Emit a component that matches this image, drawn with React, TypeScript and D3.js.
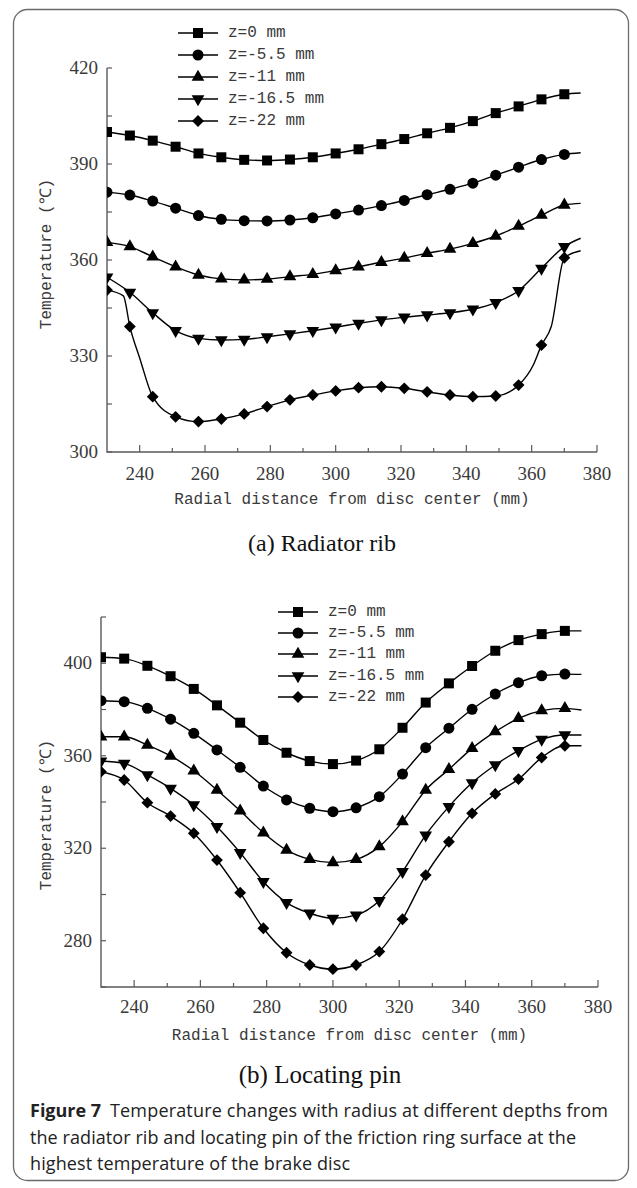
import React from 'react';
import * as d3 from 'd3';

// ---------- data ----------
const radius = [230, 237, 244, 251, 258, 265, 272, 279, 286, 293, 300, 307, 314, 321, 328, 335, 342, 349, 356, 363, 370, 375];
const markerCount = 21; // last radius (375) is line end only
const seriesNames = ['z=0 mm', 'z=-5.5 mm', 'z=-11 mm', 'z=-16.5 mm', 'z=-22 mm'];
const xTickValues = [240, 260, 280, 300, 320, 340, 360, 380];

// (a) Radiator rib
const ribZ0 = [400, 398.9, 397.3, 395.4, 393.3, 392.1, 391.3, 391.1, 391.4, 392.1, 393.3, 394.6, 396.2, 397.8, 399.6, 401.3, 403.4, 405.9, 408, 410.2, 411.8, 412.2];
const ribZ55 = [381.2, 380.3, 378.4, 376.2, 373.9, 372.7, 372.3, 372.2, 372.5, 373.2, 374.4, 375.6, 377, 378.6, 380.4, 382.1, 384, 386.5, 389, 391.4, 393, 393.5];
const ribZ11 = [365.5, 364.2, 361, 357.9, 355.3, 354.1, 353.8, 354, 354.8, 355.5, 356.7, 357.9, 359.3, 360.6, 362.1, 363.4, 365.2, 367.5, 370.6, 374, 377.2, 377.7];
const ribZ165 = [354.6, 349.9, 343.5, 337.9, 335.5, 335, 335.2, 336, 336.9, 337.9, 339, 340.2, 341.3, 342.1, 342.8, 343.5, 344.6, 346.7, 350.4, 357.4, 364.2, 366.8];
const ribZ22 = [350.6, 339.2, 317.3, 311, 309.5, 310.3, 311.9, 314.2, 316.3, 317.8, 319.1, 320.1, 320.4, 319.9, 318.8, 317.8, 317.3, 317.5, 320.9, 333.4, 360.7, 362.9];
const ribZ22ExtraRadius = [235, 240, 360.5, 366];
const ribZ22ExtraValues = [348.8, 329.4, 327.2, 339.2];
const ribYTicks = [300, 330, 360, 390, 420];

// (b) Locating pin
const pinZ0 = [402.6, 402, 398.9, 394.4, 388.9, 381.8, 374.3, 366.8, 361.3, 357.7, 356.4, 357.9, 362.8, 372.1, 383, 391.3, 398.8, 405.4, 410, 412.6, 414, 414];
const pinZ55 = [383.8, 383.4, 380.5, 375.8, 369.7, 362.5, 355, 346.9, 340.9, 337.3, 335.8, 337.5, 342.3, 352.1, 363.5, 371.9, 380.1, 386.7, 391.6, 394.6, 395.3, 395.2];
const pinZ11 = [368.2, 368.2, 364.6, 359.9, 353.5, 345.2, 336.2, 326.7, 319.2, 315.2, 313.8, 315.2, 320.7, 331.5, 345.2, 354.1, 363.2, 370.4, 376.2, 379.5, 380.5, 379.8];
const pinZ165 = [357.7, 356.7, 351.7, 345.9, 338.7, 329.3, 318.1, 305.5, 296.5, 291.9, 289.7, 291.1, 297.3, 309.9, 325.7, 338, 348.3, 356, 362.2, 367.1, 369, 369];
const pinZ22 = [353.1, 349.5, 339.7, 333.9, 326.5, 314.9, 300.8, 285.4, 274.8, 269.5, 267.7, 269.5, 275.3, 289.3, 308.4, 322.8, 335.1, 343.5, 349.9, 359.2, 364.3, 364.3];
const pinYTicks = [280, 320, 360, 400];

const captionBold = 'Figure 7';
const captionLines = [
  'Temperature changes with radius at different depths from',
  'the radiator rib and locating pin of the friction ring surface at the',
  'highest temperature of the brake disc',
];

// ---------- drawing ----------
const MONO = '"Liberation Mono", "DejaVu Sans Mono", monospace';
const SERIF = '"Liberation Serif", "DejaVu Serif", serif';
const SANS = '"Open Sans", "Noto Sans", sans-serif';
const AXIS = '#5a5a5a';
const TEXT = '#3a3a3a';

type Sym = 'square' | 'circle' | 'up' | 'down' | 'diamond';
const symbols: Sym[] = ['square', 'circle', 'up', 'down', 'diamond'];

function markerPath(s: Sym): { d: string; rot: number } {
  switch (s) {
    case 'square': return { d: d3.symbol(d3.symbolSquare, 100)()!, rot: 0 };
    case 'circle': return { d: d3.symbol(d3.symbolCircle, 95)()!, rot: 0 };
    case 'up': return { d: d3.symbol(d3.symbolTriangle, 70)()!, rot: 0 };
    case 'down': return { d: d3.symbol(d3.symbolTriangle, 70)()!, rot: 180 };
    case 'diamond': return { d: d3.symbol(d3.symbolSquare, 70)()!, rot: 45 };
  }
}

function Marker({ s, x, y }: { s: Sym; x: number; y: number }) {
  const m = markerPath(s);
  return <path d={m.d} transform={`translate(${x},${y}) rotate(${m.rot})`} fill="#000" />;
}

interface PanelProps {
  id: string;
  xRange: [number, number];
  yDomain: [number, number];
  yRange: [number, number];
  yTicks: number[];
  yMinor: number;
  data: number[][];
  extra?: { si: number; r: number[]; v: number[] };
  legendX: number;
  legendY: number[];
  yLabelY: number;
  xTickLabelY: number;
  xTitleY: number;
}

function Panel(p: PanelProps) {
  const x = d3.scaleLinear().domain([230, 380]).range(p.xRange);
  const y = d3.scaleLinear().domain(p.yDomain).range(p.yRange);
  const line = d3.line<[number, number]>().x(d => x(d[0])).y(d => y(d[1])).curve(d3.curveMonotoneX);
  const x0 = p.xRange[0];
  const yBottom = p.yRange[0];
  const yTop = p.yRange[1];
  const minorY = d3.range(p.yDomain[0], p.yDomain[1] + 0.001, p.yMinor);
  const minorX = d3.range(240, 381, 10);
  return (
    <g>
      <defs>
        <clipPath id={p.id}>
          <rect x={x0} y={yTop - 30} width={p.xRange[1] - x0 + 20} height={yBottom - yTop + 40} />
        </clipPath>
      </defs>
      <path d={`M${x0},${yTop}V${yBottom}H${p.xRange[1]}`} fill="none" stroke={AXIS} strokeWidth={1.4} />
      {minorY.map(v => (
        <line key={'yt' + v} x1={x0} x2={x0 + 5} y1={y(v)} y2={y(v)} stroke={AXIS} strokeWidth={1.2} />
      ))}
      {minorX.map(v => (
        <line key={'xt' + v} x1={x(v)} x2={x(v)} y1={yBottom} y2={yBottom - (v % 20 === 0 ? 7 : 4)} stroke={AXIS} strokeWidth={1.2} />
      ))}
      {p.yTicks.map(v => (
        <text key={'yl' + v} x={x0 - 9} y={y(v) + 6} textAnchor="end" fontFamily={SERIF} fontSize={19} fill={TEXT}>{v}</text>
      ))}
      {xTickValues.map(v => (
        <text key={'xl' + v} x={x(v)} y={p.xTickLabelY} textAnchor="middle" fontFamily={SERIF} fontSize={19} fill={TEXT}>{v}</text>
      ))}
      <text x={(p.xRange[0] + p.xRange[1]) / 2} y={p.xTitleY} textAnchor="middle" fontFamily={MONO} fontSize={16} fill={TEXT}>
        Radial distance from disc center (mm)
      </text>
      <text transform={`translate(47,${p.yLabelY}) rotate(-90)`} textAnchor="middle" dominantBaseline="central" fontFamily={MONO} fontSize={16} fill={TEXT}>
        Temperature (℃)
      </text>
      <g clipPath={`url(#${p.id})`}>
        {p.data.map((vals, si) => {
          let pts: [number, number][] = radius.map((r, i) => [r, vals[i]]);
          if (p.extra && p.extra.si === si) {
            pts = pts.concat(p.extra.r.map((r, i) => [r, p.extra!.v[i]] as [number, number]));
            pts.sort((a, b) => a[0] - b[0]);
          }
          return (
            <g key={si}>
              <path d={line(pts)!} fill="none" stroke="#000" strokeWidth={1.4} />
              {radius.slice(0, markerCount).map((r, i) => (
                <Marker key={i} s={symbols[si]} x={x(r)} y={y(vals[i])} />
              ))}
            </g>
          );
        })}
      </g>
      {seriesNames.map((name, i) => (
        <g key={name}>
          <line x1={p.legendX} x2={p.legendX + 40} y1={p.legendY[i]} y2={p.legendY[i]} stroke="#000" strokeWidth={1.6} />
          <Marker s={symbols[i]} x={p.legendX + 20} y={p.legendY[i]} />
          <text x={p.legendX + 50} y={p.legendY[i]} dominantBaseline="central" fontFamily={MONO} fontSize={16} fill={TEXT}>{name}</text>
        </g>
      ))}
    </g>
  );
}

export default function App() {
  return (
    <svg width={637} height={1188} style={{ position: 'absolute', left: 0, top: 0, background: '#fff' }}>
      <rect x={0} y={0} width={637} height={1188} fill="#fff" />
      <rect x={13.5} y={9.5} width={615} height={1171} rx={14} ry={14} fill="none" stroke="#6a6a6a" strokeWidth={1.3} />
      <Panel
        id="clipA"
        xRange={[107, 597]}
        yDomain={[300, 420]}
        yRange={[452, 68]}
        yTicks={ribYTicks}
        yMinor={15}
        data={[ribZ0, ribZ55, ribZ11, ribZ165, ribZ22]}
        extra={{ si: 4, r: ribZ22ExtraRadius, v: ribZ22ExtraValues }}
        legendX={178}
        legendY={[33, 55, 77, 99, 121]}
        yLabelY={254}
        xTickLabelY={480}
        xTitleY={504}
      />
      <text x={322} y={551} textAnchor="middle" fontFamily={SERIF} fontSize={24} fill="#111">(a) Radiator rib</text>
      <Panel
        id="clipB"
        xRange={[101, 598]}
        yDomain={[260, 420]}
        yRange={[987, 617]}
        yTicks={pinYTicks}
        yMinor={20}
        data={[pinZ0, pinZ55, pinZ11, pinZ165, pinZ22]}
        legendX={278}
        legendY={[612, 633, 654, 676, 697]}
        yLabelY={815}
        xTickLabelY={1013}
        xTitleY={1040}
      />
      <text x={320} y={1083} textAnchor="middle" fontFamily={SERIF} fontSize={25} fill="#111">(b) Locating pin</text>
      <text x={30} y={1117} fontFamily={SANS} fontSize={18} fontWeight="bold" fill="#222">{captionBold}</text>
      <text x={110} y={1117} fontFamily={SANS} fontSize={18} fill="#222" textLength={498} lengthAdjust="spacing">{captionLines[0]}</text>
      <text x={30} y={1144} fontFamily={SANS} fontSize={18} fill="#222" textLength={546} lengthAdjust="spacing">{captionLines[1]}</text>
      <text x={30} y={1170} fontFamily={SANS} fontSize={18} fill="#222" textLength={320} lengthAdjust="spacing">{captionLines[2]}</text>
    </svg>
  );
}
